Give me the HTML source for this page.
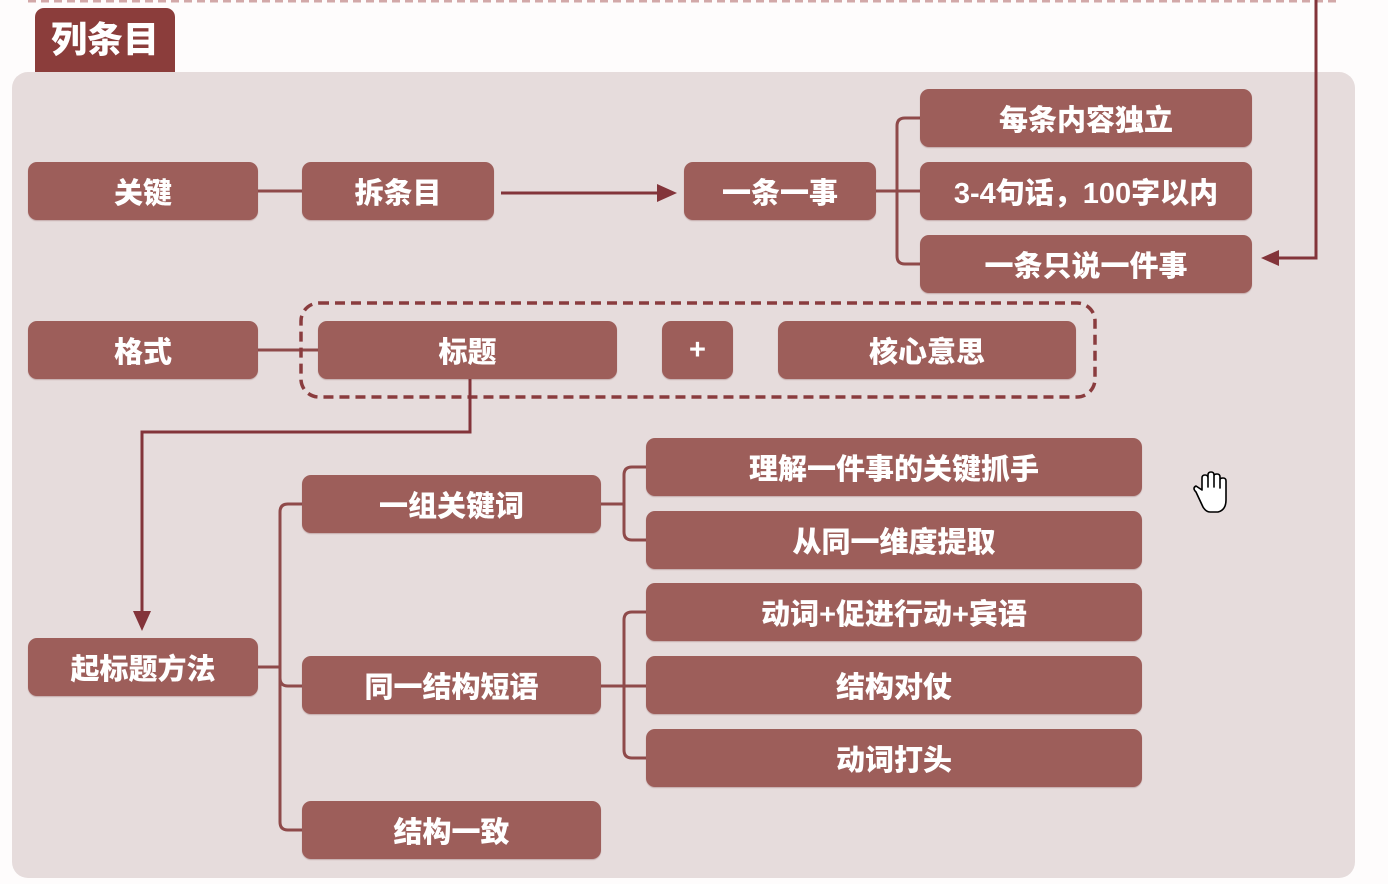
<!DOCTYPE html>
<html>
<head>
<meta charset="utf-8">
<style>
html,body{margin:0;padding:0;}
body{width:1388px;height:884px;position:relative;overflow:hidden;background:#fefcfc;font-family:"Liberation Sans","Noto Sans CJK SC",sans-serif;}
.panel{position:absolute;left:12px;top:72px;width:1343px;height:806px;background:#e6dcdc;border-radius:16px;}
.tab{position:absolute;left:35px;top:8px;width:140px;height:64px;background:#8b3d3b;border-radius:9px 9px 0 0;color:#fff;font-weight:900;font-size:36px;line-height:64px;text-align:center;}
.n{position:absolute;background:#9d5e5a;border-radius:9px;color:#fff;font-weight:900;font-size:29px;display:flex;align-items:center;justify-content:center;box-shadow:0 1px 1px rgba(120,60,60,0.3);}
svg{position:absolute;left:0;top:0;}
</style>
</head>
<body>
<div class="panel"></div>
<div class="tab">列条目</div>

<svg width="1388" height="884" viewBox="0 0 1388 884">
  <line x1="28" y1="1" x2="1340" y2="1" stroke="#d2a8a8" stroke-width="3" stroke-dasharray="8,5"/>
  <polyline points="1316,0 1316,258 1275,258" fill="none" stroke="#83343a" stroke-width="3"/>
  <polygon points="1261,258 1279,250 1279,266" fill="#83343a"/>
  <line x1="258" y1="191" x2="302" y2="191" stroke="#8f4a4a" stroke-width="3"/>
  <line x1="501" y1="193" x2="662" y2="193" stroke="#83343a" stroke-width="3"/>
  <polygon points="677,193 657,184 657,202" fill="#83343a"/>
  <line x1="876" y1="191" x2="920" y2="191" stroke="#8f4a4a" stroke-width="3"/>
  <path d="M920,118 L905,118 Q897,118 897,126 L897,256 Q897,264 905,264 L920,264" fill="none" stroke="#8f4a4a" stroke-width="3"/>
  <line x1="258" y1="350" x2="318" y2="350" stroke="#8f4a4a" stroke-width="3"/>
  <rect x="301" y="303" width="794" height="94" rx="18" ry="18" fill="none" stroke="#8a3c3e" stroke-width="3.5" stroke-dasharray="10,6"/>
  <polyline points="470,379 470,432 142,432 142,615" fill="none" stroke="#83343a" stroke-width="3"/>
  <polygon points="142,631 133,611 151,611" fill="#83343a"/>
  <line x1="258" y1="667" x2="280" y2="667" stroke="#8f4a4a" stroke-width="3"/>
  <path d="M302,504 L288,504 Q280,504 280,512 L280,822 Q280,830 288,830 L302,830" fill="none" stroke="#8f4a4a" stroke-width="3"/>
  <path d="M280,678 Q280,686 288,686 L302,686" fill="none" stroke="#8f4a4a" stroke-width="3"/>
  <line x1="601" y1="504" x2="624" y2="504" stroke="#8f4a4a" stroke-width="3"/>
  <path d="M646,467 L632,467 Q624,467 624,475 L624,532 Q624,540 632,540 L646,540" fill="none" stroke="#8f4a4a" stroke-width="3"/>
  <line x1="601" y1="686" x2="646" y2="686" stroke="#8f4a4a" stroke-width="3"/>
  <path d="M646,612 L632,612 Q624,612 624,620 L624,750 Q624,758 632,758 L646,758" fill="none" stroke="#8f4a4a" stroke-width="3"/>
  <g transform="translate(1190,472)" stroke="#000" stroke-width="1.6" fill="#fff" stroke-linejoin="round">
    <path d="M6,20 Q2,16 6,14 L12,18 L12,6 Q12,3 15,3 Q18,3 18,6 L18,15 L18,3 Q18,0 21,0 Q24,0 24,3 L24,15 L24,4 Q24,2 27,2 Q30,2 30,5 L30,16 L30,8 Q30,6 33,6 Q36,6 36,9 L36,28 Q36,38 28,40 L20,40 Q16,40 13,35 Z"/>
  </g>
</svg>

<div class="n" style="left:28px;top:162px;width:230px;height:58px;">关键</div>
<div class="n" style="left:302px;top:162px;width:192px;height:58px;">拆条目</div>
<div class="n" style="left:684px;top:162px;width:192px;height:58px;">一条一事</div>
<div class="n" style="left:920px;top:89px;width:332px;height:58px;">每条内容独立</div>
<div class="n" style="left:920px;top:162px;width:332px;height:58px;">3-4句话，100字以内</div>
<div class="n" style="left:920px;top:235px;width:332px;height:58px;">一条只说一件事</div>

<div class="n" style="left:28px;top:321px;width:230px;height:58px;">格式</div>
<div class="n" style="left:318px;top:321px;width:299px;height:58px;">标题</div>
<div class="n" style="left:662px;top:321px;width:71px;height:58px;">+</div>
<div class="n" style="left:778px;top:321px;width:298px;height:58px;">核心意思</div>

<div class="n" style="left:28px;top:638px;width:230px;height:58px;">起标题方法</div>
<div class="n" style="left:302px;top:475px;width:299px;height:58px;">一组关键词</div>
<div class="n" style="left:302px;top:656px;width:299px;height:58px;">同一结构短语</div>
<div class="n" style="left:302px;top:801px;width:299px;height:58px;">结构一致</div>

<div class="n" style="left:646px;top:438px;width:496px;height:58px;">理解一件事的关键抓手</div>
<div class="n" style="left:646px;top:511px;width:496px;height:58px;">从同一维度提取</div>
<div class="n" style="left:646px;top:583px;width:496px;height:58px;">动词+促进行动+宾语</div>
<div class="n" style="left:646px;top:656px;width:496px;height:58px;">结构对仗</div>
<div class="n" style="left:646px;top:729px;width:496px;height:58px;">动词打头</div>
</body>
</html>
